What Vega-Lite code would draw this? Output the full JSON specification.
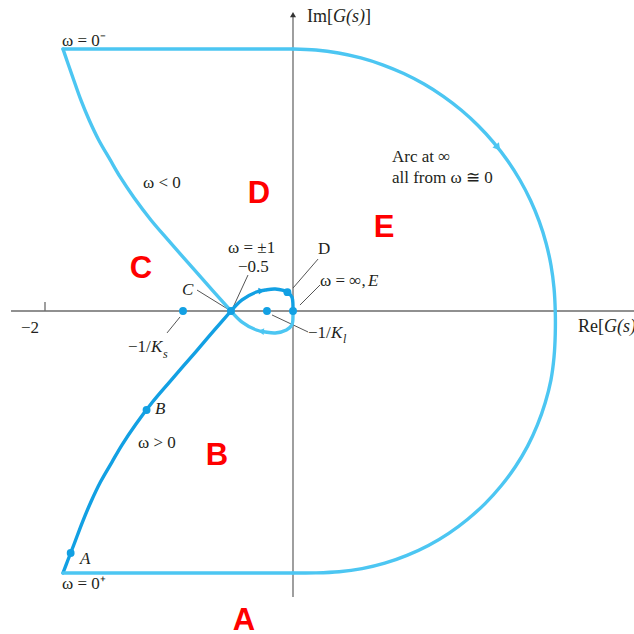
{
  "$schema": "https://vega.github.io/schema/vega-lite/v6.json",
  "width": 634,
  "height": 634,
  "padding": 0,
  "autosize": "none",
  "background": "white",
  "config": {"view": {"stroke": null}},
  "datasets": {
    "axes": [
      {"part": "real", "x": -2.274, "y": 0, "x2": 2.75, "y2": 0},
      {"part": "imag", "x": 0, "y": -2.306, "x2": 0, "y2": 2.37},
      {"part": "tick", "x": -2, "y": 0, "x2": -2, "y2": 0.073}
    ],
    "curves": [
      {"seg": "posLeft", "branch": "pos", "i": 0, "x": -1.855, "y": -2.113},
      {"seg": "posLeft", "branch": "pos", "i": 1, "x": -1.815, "y": -2.008},
      {"seg": "posLeft", "branch": "pos", "i": 2, "x": -1.765, "y": -1.879},
      {"seg": "posLeft", "branch": "pos", "i": 3, "x": -1.698, "y": -1.702},
      {"seg": "posLeft", "branch": "pos", "i": 4, "x": -1.63, "y": -1.54},
      {"seg": "posLeft", "branch": "pos", "i": 5, "x": -1.553, "y": -1.379},
      {"seg": "posLeft", "branch": "pos", "i": 6, "x": -1.46, "y": -1.218},
      {"seg": "posLeft", "branch": "pos", "i": 7, "x": -1.38, "y": -1.081},
      {"seg": "posLeft", "branch": "pos", "i": 8, "x": -1.266, "y": -0.911},
      {"seg": "posLeft", "branch": "pos", "i": 9, "x": -1.133, "y": -0.734},
      {"seg": "posLeft", "branch": "pos", "i": 10, "x": -0.996, "y": -0.573},
      {"seg": "posLeft", "branch": "pos", "i": 11, "x": -0.786, "y": -0.331},
      {"seg": "posLeft", "branch": "pos", "i": 12, "x": -0.64, "y": -0.161},
      {"seg": "posLeft", "branch": "pos", "i": 13, "x": -0.5, "y": 0},

      {"seg": "posLoop", "branch": "pos", "i": 0, "x": -0.5, "y": 0},
      {"seg": "posLoop", "branch": "pos", "i": 1, "x": -0.411, "y": 0.089},
      {"seg": "posLoop", "branch": "pos", "i": 2, "x": -0.295, "y": 0.153},
      {"seg": "posLoop", "branch": "pos", "i": 3, "x": -0.223, "y": 0.169},
      {"seg": "posLoop", "branch": "pos", "i": 4, "x": -0.143, "y": 0.177},
      {"seg": "posLoop", "branch": "pos", "i": 5, "x": -0.045, "y": 0.152},
      {"seg": "posLoop", "branch": "pos", "i": 6, "x": -0.009, "y": 0.113},
      {"seg": "posLoop", "branch": "pos", "i": 7, "x": 0, "y": 0.032},
      {"seg": "posLoop", "branch": "pos", "i": 8, "x": 0, "y": 0},

      {"seg": "negLoop", "branch": "neg", "i": 0, "x": 0, "y": 0},
      {"seg": "negLoop", "branch": "neg", "i": 1, "x": 0, "y": -0.032},
      {"seg": "negLoop", "branch": "neg", "i": 2, "x": -0.009, "y": -0.113},
      {"seg": "negLoop", "branch": "neg", "i": 3, "x": -0.053, "y": -0.153},
      {"seg": "negLoop", "branch": "neg", "i": 4, "x": -0.143, "y": -0.177},
      {"seg": "negLoop", "branch": "neg", "i": 5, "x": -0.223, "y": -0.169},
      {"seg": "negLoop", "branch": "neg", "i": 6, "x": -0.295, "y": -0.153},
      {"seg": "negLoop", "branch": "neg", "i": 7, "x": -0.411, "y": -0.089},
      {"seg": "negLoop", "branch": "neg", "i": 8, "x": -0.5, "y": 0},

      {"seg": "negLeft", "branch": "neg", "i": 0, "x": -0.5, "y": 0},
      {"seg": "negLeft", "branch": "neg", "i": 1, "x": -0.644, "y": 0.161},
      {"seg": "negLeft", "branch": "neg", "i": 2, "x": -0.795, "y": 0.331},
      {"seg": "negLeft", "branch": "neg", "i": 3, "x": -1.008, "y": 0.573},
      {"seg": "negLeft", "branch": "neg", "i": 4, "x": -1.146, "y": 0.734},
      {"seg": "negLeft", "branch": "neg", "i": 5, "x": -1.28, "y": 0.911},
      {"seg": "negLeft", "branch": "neg", "i": 6, "x": -1.394, "y": 1.081},
      {"seg": "negLeft", "branch": "neg", "i": 7, "x": -1.474, "y": 1.218},
      {"seg": "negLeft", "branch": "neg", "i": 8, "x": -1.567, "y": 1.379},
      {"seg": "negLeft", "branch": "neg", "i": 9, "x": -1.644, "y": 1.54},
      {"seg": "negLeft", "branch": "neg", "i": 10, "x": -1.711, "y": 1.702},
      {"seg": "negLeft", "branch": "neg", "i": 11, "x": -1.774, "y": 1.879},
      {"seg": "negLeft", "branch": "neg", "i": 12, "x": -1.819, "y": 2.008},
      {"seg": "negLeft", "branch": "neg", "i": 13, "x": -1.855, "y": 2.113},

      {"seg": "topLine", "branch": "neg", "i": 0, "x": -1.855, "y": 2.113},
      {"seg": "topLine", "branch": "neg", "i": 1, "x": 0, "y": 2.113},

      {"seg": "arc", "branch": "neg", "i": 1, "x": 0, "y": 2.113},
      {"seg": "arc", "branch": "neg", "i": 2, "x": 0.1842, "y": 2.105},
      {"seg": "arc", "branch": "neg", "i": 3, "x": 0.3669, "y": 2.0809},
      {"seg": "arc", "branch": "neg", "i": 4, "x": 0.5469, "y": 2.041},
      {"seg": "arc", "branch": "neg", "i": 5, "x": 0.7227, "y": 1.9856},
      {"seg": "arc", "branch": "neg", "i": 6, "x": 0.893, "y": 1.915},
      {"seg": "arc", "branch": "neg", "i": 7, "x": 1.0565, "y": 1.8299},
      {"seg": "arc", "branch": "neg", "i": 8, "x": 1.212, "y": 1.7309},
      {"seg": "arc", "branch": "neg", "i": 9, "x": 1.3582, "y": 1.6186},
      {"seg": "arc", "branch": "neg", "i": 10, "x": 1.4941, "y": 1.4941},
      {"seg": "arc", "branch": "neg", "i": 11, "x": 1.6186, "y": 1.3582},
      {"seg": "arc", "branch": "neg", "i": 12, "x": 1.7309, "y": 1.212},
      {"seg": "arc", "branch": "neg", "i": 13, "x": 1.8299, "y": 1.0565},
      {"seg": "arc", "branch": "neg", "i": 14, "x": 1.915, "y": 0.893},
      {"seg": "arc", "branch": "neg", "i": 15, "x": 1.9856, "y": 0.7227},
      {"seg": "arc", "branch": "neg", "i": 16, "x": 2.041, "y": 0.5469},
      {"seg": "arc", "branch": "neg", "i": 17, "x": 2.0809, "y": 0.3669},
      {"seg": "arc", "branch": "neg", "i": 18, "x": 2.105, "y": 0.1842},
      {"seg": "arc", "branch": "neg", "i": 19, "x": 2.115, "y": 0},
      {"seg": "arc", "branch": "neg", "i": 20, "x": 2.115, "y": -0.185},
      {"seg": "arc", "branch": "neg", "i": 21, "x": 2.105, "y": -0.372},
      {"seg": "arc", "branch": "neg", "i": 22, "x": 2.08, "y": -0.557},
      {"seg": "arc", "branch": "neg", "i": 23, "x": 2.034, "y": -0.74},
      {"seg": "arc", "branch": "neg", "i": 24, "x": 1.971, "y": -0.919},
      {"seg": "arc", "branch": "neg", "i": 25, "x": 1.891, "y": -1.092},
      {"seg": "arc", "branch": "neg", "i": 26, "x": 1.793, "y": -1.256},
      {"seg": "arc", "branch": "neg", "i": 27, "x": 1.679, "y": -1.409},
      {"seg": "arc", "branch": "neg", "i": 28, "x": 1.551, "y": -1.551},
      {"seg": "arc", "branch": "neg", "i": 29, "x": 1.409, "y": -1.679},
      {"seg": "arc", "branch": "neg", "i": 30, "x": 1.256, "y": -1.793},
      {"seg": "arc", "branch": "neg", "i": 31, "x": 1.092, "y": -1.891},
      {"seg": "arc", "branch": "neg", "i": 32, "x": 0.919, "y": -1.971},
      {"seg": "arc", "branch": "neg", "i": 33, "x": 0.74, "y": -2.034},
      {"seg": "arc", "branch": "neg", "i": 34, "x": 0.557, "y": -2.078},
      {"seg": "arc", "branch": "neg", "i": 35, "x": 0.372, "y": -2.103},
      {"seg": "arc", "branch": "neg", "i": 36, "x": 0.185, "y": -2.112},
      {"seg": "arc", "branch": "neg", "i": 37, "x": 0, "y": -2.113},

      {"seg": "bottomLine", "branch": "neg", "i": 0, "x": 0, "y": -2.113},
      {"seg": "bottomLine", "branch": "neg", "i": 1, "x": -1.855, "y": -2.113}
    ],
    "arrows": [
      {"at": "arc", "branch": "neg", "x": 1.6467, "y": 1.324},
      {"at": "upperLoop", "branch": "pos", "x": -0.262, "y": 0.162},
      {"at": "lowerLoop", "branch": "neg", "x": -0.25, "y": -0.165}
    ],
    "points": [
      {"name": "A", "x": -1.793, "y": -1.952},
      {"name": "B", "x": -1.181, "y": -0.798},
      {"name": "C", "x": -0.5, "y": 0},
      {"name": "-1/Ks", "x": -0.887, "y": 0},
      {"name": "-1/Kl", "x": -0.21, "y": 0},
      {"name": "D", "x": -0.045, "y": 0.152},
      {"name": "E", "x": 0, "y": 0}
    ],
    "leaders": [
      {"to": "C", "x": -0.774, "y": 0.169, "x2": -0.52, "y2": 0.012},
      {"to": "-0.5", "x": -0.363, "y": 0.29, "x2": -0.49, "y2": 0.015},
      {"to": "-1/Ks", "x": -1.016, "y": -0.177, "x2": -0.911, "y2": -0.048},
      {"to": "D", "x": 0.202, "y": 0.419, "x2": 0.0, "y2": 0.185},
      {"to": "E", "x": 0.218, "y": 0.21, "x2": 0.056, "y2": 0.048},
      {"to": "-1/Kl", "x": 0.121, "y": -0.169, "x2": -0.169, "y2": -0.032}
    ],
    "notes": [
      {"label": "ω = 0⁻", "x": -1.863, "y": 2.177},
      {"label": "ω < 0", "x": -1.21, "y": 1.032},
      {"label": "ω = ±1", "x": -0.524, "y": 0.508},
      {"label": "−0.5", "x": -0.444, "y": 0.355},
      {"label": "D", "x": 0.202, "y": 0.5},
      {"label": "ω = ∞,", "x": 0.218, "y": 0.242},
      {"label": "Arc at ∞", "x": 0.798, "y": 1.242},
      {"label": "all from ω ≅ 0", "x": 0.798, "y": 1.073},
      {"label": "−1/", "x": -1.331, "y": -0.29},
      {"label": "−1/", "x": 0.121, "y": -0.177},
      {"label": "−2", "x": -2.194, "y": -0.137},
      {"label": "ω > 0", "x": -1.25, "y": -1.065},
      {"label": "ω = 0⁺", "x": -1.863, "y": -2.202}
    ],
    "pointNames": [
      {"label": "E", "x": 0.605, "y": 0.242},
      {"label": "C", "x": -0.895, "y": 0.169},
      {"label": "K", "x": -1.145, "y": -0.29},
      {"label": "K", "x": 0.306, "y": -0.177},
      {"label": "B", "x": -1.113, "y": -0.79},
      {"label": "A", "x": -1.718, "y": -2.0}
    ],
    "subscripts": [
      {"label": "s", "x": -1.048, "y": -0.347},
      {"label": "l", "x": 0.403, "y": -0.228}
    ],
    "axisText": [
      {"label": "Im[", "x": 0.113, "y": 2.371},
      {"label": "]", "x": 0.581, "y": 2.371},
      {"label": "Re[", "x": 2.298, "y": -0.129},
      {"label": "]", "x": 2.766, "y": -0.129}
    ],
    "axisVars": [
      {"label": "G(s)", "x": 0.323, "y": 2.371},
      {"label": "G(s)", "x": 2.508, "y": -0.129}
    ],
    "regions": [
      {"label": "D", "x": -0.274, "y": 0.871},
      {"label": "E", "x": 0.734, "y": 0.597},
      {"label": "C", "x": -1.226, "y": 0.266},
      {"label": "B", "x": -0.613, "y": -1.242},
      {"label": "A", "x": -0.395, "y": -2.573}
    ]
  },
  "encoding": {
    "x": {"field": "x", "type": "quantitative", "scale": {"domain": [-2.3629, 2.75], "nice": false, "zero": false}, "axis": null},
    "y": {"field": "y", "type": "quantitative", "scale": {"domain": [-2.6048, 2.5081], "nice": false, "zero": false}, "axis": null}
  },
  "layer": [
    {
      "data": {"name": "axes"},
      "mark": {"type": "rule", "color": "#6b6b6b", "strokeWidth": 1.3},
      "encoding": {"x2": {"field": "x2"}, "y2": {"field": "y2"}}
    },
    {
      "data": {"values": [{"x": 0, "y": 2.39}]},
      "mark": {"type": "point", "shape": "triangle-up", "filled": true, "color": "#333333", "size": 36, "opacity": 1}
    },
    {
      "data": {"name": "leaders"},
      "mark": {"type": "rule", "color": "#555555", "strokeWidth": 1},
      "encoding": {"x2": {"field": "x2"}, "y2": {"field": "y2"}}
    },
    {
      "data": {"name": "curves"},
      "mark": {"type": "line", "interpolate": "catmull-rom", "strokeWidth": 3.4, "strokeCap": "round", "strokeJoin": "round"},
      "encoding": {
        "detail": {"field": "seg"},
        "order": {"field": "i", "type": "quantitative"},
        "color": {"field": "branch", "type": "nominal", "scale": {"domain": ["pos", "neg"], "range": ["#12a0e3", "#4cc6f2"]}, "legend": null}
      }
    },
    {
      "data": {"name": "arrows"},
      "transform": [{"filter": "datum.at === 'arc'"}],
      "mark": {"type": "point", "shape": "triangle", "filled": true, "size": 70, "angle": 141, "color": "#4cc6f2", "opacity": 1}
    },
    {
      "data": {"name": "arrows"},
      "transform": [{"filter": "datum.at === 'upperLoop'"}],
      "mark": {"type": "point", "shape": "triangle", "filled": true, "size": 45, "angle": 85, "color": "#12a0e3", "opacity": 1}
    },
    {
      "data": {"name": "arrows"},
      "transform": [{"filter": "datum.at === 'lowerLoop'"}],
      "mark": {"type": "point", "shape": "triangle", "filled": true, "size": 45, "angle": 275, "color": "#4cc6f2", "opacity": 1}
    },
    {
      "data": {"name": "points"},
      "mark": {"type": "point", "shape": "circle", "filled": true, "size": 62, "color": "#12a0e3", "opacity": 1}
    },
    {
      "data": {"name": "notes"},
      "mark": {"type": "text", "font": "Liberation Serif", "fontSize": 17, "align": "left", "baseline": "middle", "color": "#231f20"},
      "encoding": {"text": {"field": "label"}}
    },
    {
      "data": {"name": "pointNames"},
      "mark": {"type": "text", "font": "Liberation Serif", "fontStyle": "italic", "fontSize": 17, "align": "left", "baseline": "middle", "color": "#231f20"},
      "encoding": {"text": {"field": "label"}}
    },
    {
      "data": {"name": "subscripts"},
      "mark": {"type": "text", "font": "Liberation Serif", "fontStyle": "italic", "fontSize": 12, "align": "left", "baseline": "middle", "color": "#231f20"},
      "encoding": {"text": {"field": "label"}}
    },
    {
      "data": {"name": "axisText"},
      "mark": {"type": "text", "font": "Liberation Serif", "fontSize": 18, "align": "left", "baseline": "middle", "color": "#231f20"},
      "encoding": {"text": {"field": "label"}}
    },
    {
      "data": {"name": "axisVars"},
      "mark": {"type": "text", "font": "Liberation Serif", "fontStyle": "italic", "fontSize": 18, "align": "left", "baseline": "middle", "color": "#231f20"},
      "encoding": {"text": {"field": "label"}}
    },
    {
      "data": {"name": "regions"},
      "mark": {"type": "text", "font": "Liberation Sans", "fontWeight": "bold", "fontSize": 31, "align": "center", "baseline": "alphabetic", "color": "#ff0000"},
      "encoding": {"text": {"field": "label"}}
    }
  ]
}
